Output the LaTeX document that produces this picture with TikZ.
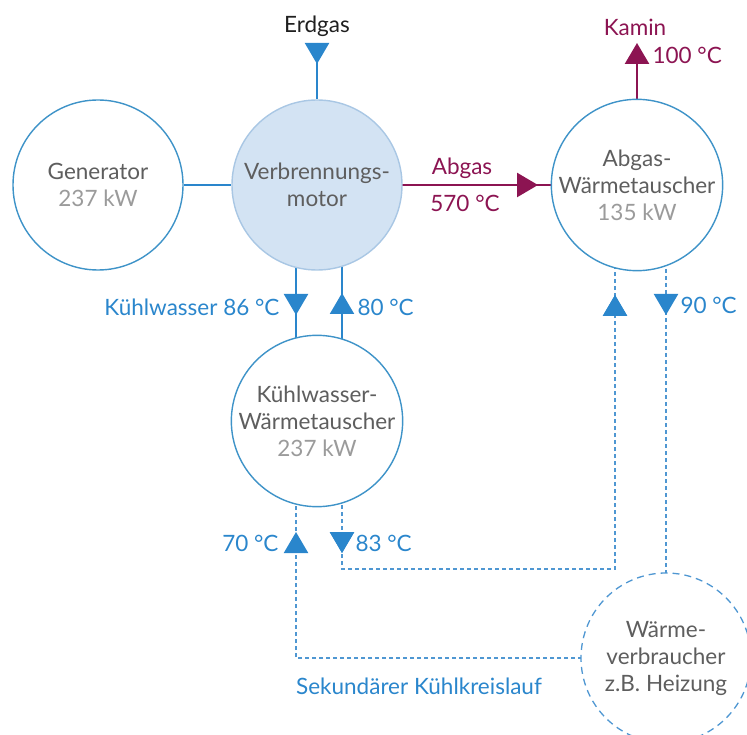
\documentclass[tikz,border=0pt]{standalone}
\usepackage{fontspec}
\setmainfont{Lato}
\usetikzlibrary{arrows.meta,decorations.markings,backgrounds}

\definecolor{pipe}{HTML}{2A86CC}
\definecolor{pipelight}{HTML}{4F97D2}
\definecolor{rim}{HTML}{3E93C8}
\definecolor{motorfill}{HTML}{D3E3F3}
\definecolor{motorrim}{HTML}{A9C7E4}
\definecolor{exhaust}{HTML}{8C1452}
\definecolor{label}{HTML}{5E5E5E}
\definecolor{power}{HTML}{9B9B9B}

\tikzset{
  unit/.style={circle,draw=rim,line width=1.4pt,fill=white,minimum size=170pt,
    inner sep=0pt,align=center,text=label},
  water/.style={pipe,line width=2.2pt},
  secondary/.style={pipelight,line width=2.2pt,dash pattern=on 4pt off 3pt},
  gas/.style={exhaust,line width=2.6pt},
  flow/.style={postaction=decorate,decoration={markings,
    mark=at position #1 with {\arrow{Triangle[length=21pt,width=24pt,color=pipe]}}}},
  gasflow/.style={postaction=decorate,decoration={markings,
    mark=at position #1 with {\arrow{Triangle[length=21pt,width=24pt,color=exhaust]}}}},
  temp/.style={text=pipe},
}

\begin{document}
\begin{tikzpicture}[x=1pt,y=-1pt,font=\fontsize{22.5}{27}\selectfont]
  \useasboundingbox (0,0) rectangle (747,735);

  % plant units
  \node[unit] (gen) at (98,185) {Generator\\\textcolor{power}{237 kW}};
  \node[unit,fill=motorfill,draw=motorrim] (motor) at (317,185) {Verbrennungs-\\motor};
  \node[unit] (awt) at (637,185) {Abgas-\\Wärmetauscher\\\textcolor{power}{135 kW}};
  \node[unit] (kwt) at (317,421) {Kühlwasser-\\Wärmetauscher\\\textcolor{power}{237 kW}};
  \node[unit,draw=pipelight,line width=1.3pt,dash pattern=on 7pt off 5pt]
    (wv) at (666,658) {Wärme-\\verbraucher\\z.B. Heizung};

  \coordinate (erdgas) at (317,43);
  \coordinate (kamin) at (637,43);

  % pipes behind the units
  \begin{scope}[on background layer]
    \draw[water] (gen) -- (motor);
    \draw[water,flow=21pt] (erdgas) -- (motor);
    \draw[water,flow=130pt] ([xshift=-21pt]motor.center) -- ([xshift=-21pt]kwt.center);
    \draw[water,flow=128pt] ([xshift=25pt]kwt.center) -- ([xshift=25pt]motor.center);
    \draw[gas,gasflow=221pt] (motor.center) -- (awt.center);
    \draw[gas,-{Triangle[length=21pt,width=24pt]}] (awt) -- (kamin);
    % secondary loop
    \draw[secondary,flow=132pt,flow=-110pt] ([xshift=25pt]kwt.center) -- ++(0,148)
      -| ([xshift=-22pt]awt.center);
    \draw[secondary,flow=130pt] ([xshift=29pt]awt.center) -- (wv.center);
    \draw[secondary,flow=-111pt] (wv.center) -| ([xshift=-21pt]kwt.center);
  \end{scope}

  % labels
  \node[text=black!88] (lerdgas) at (317,26) {Erdgas};
  \node[text=exhaust] (lkamin) at (635,27) {Kamin};
  \node[text=exhaust,anchor=west] (lkamint) at (649,55) {100 °C};
  \node[text=exhaust] (labgas) at (462,168) {Abgas};
  \node[text=exhaust] (labgast) at (465,203) {570 °C};
  \node[temp,anchor=east] (lkw) at (283,307) {Kühlwasser 86 °C};
  \node[temp,anchor=west] (lkwback) at (354,307) {80 °C};
  \node[temp,anchor=west] (lhot) at (677,305) {90 °C};
  \node[temp,anchor=east] (lreturn) at (282,543) {70 °C};
  \node[temp,anchor=west] (lfeed) at (352,543) {83 °C};
  \node[temp] (lsec) at (419,686) {Sekundärer Kühlkreislauf};
\end{tikzpicture}
\end{document}
